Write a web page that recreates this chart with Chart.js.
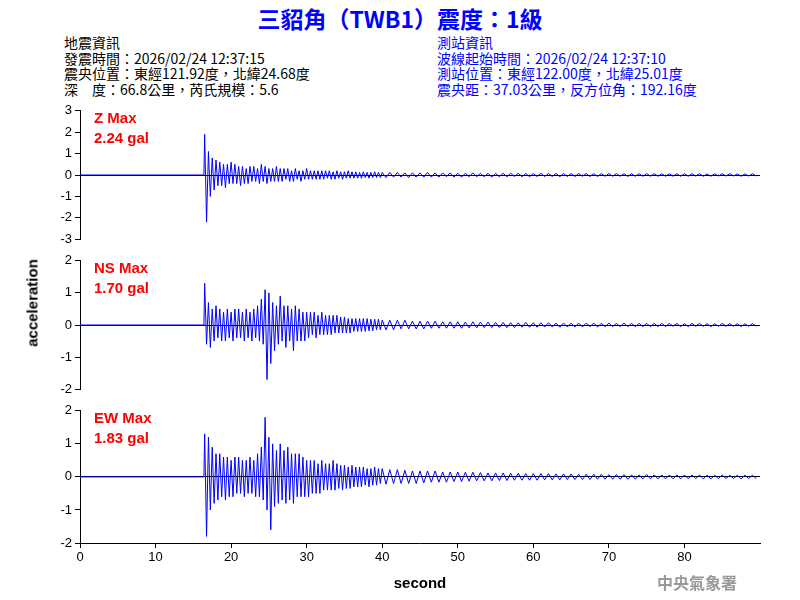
<!DOCTYPE html>
<html><head><meta charset="utf-8">
<script src="https://cdn.jsdelivr.net/npm/chart.js@4"></script>
<style>
body{margin:0;width:800px;height:600px;background:#fff;position:relative;overflow:hidden;font-family:"Liberation Sans",Arial,sans-serif}
.c{position:absolute;left:0;width:800px}
.t{position:absolute;white-space:nowrap}
.hdr{font-family:"Noto Sans CJK TC","Liberation Sans";font-size:14px;line-height:15.7px}
.lab{color:#ff0000;font-weight:bold;font-size:15px;line-height:20px}
</style></head><body>
<div class="t" style="left:0;width:800px;top:1px;text-align:center;color:#0000ff;font-weight:bold;font-size:23px;font-family:'Noto Sans CJK TC','Liberation Sans'">三貂角（TWB1）震度：1級</div>
<div class="t hdr" style="left:64px;top:35px;color:#000">地震資訊<br>發震時間：2026/02/24 12:37:15<br>震央位置：東經121.92度，北緯24.68度<br>深　度：66.8公里，芮氏規模：5.6</div>
<div class="t hdr" style="left:437px;top:35px;color:#0000ff">測站資訊<br>波線起始時間：2026/02/24 12:37:10<br>測站位置：東經122.00度，北緯25.01度<br>震央距：37.03公里，反方位角：192.16度</div>
<div class="c" style="top:100px;height:150px"><canvas id="c1"></canvas></div>
<div class="c" style="top:250px;height:150px"><canvas id="c2"></canvas></div>
<div class="c" style="top:400px;height:200px"><canvas id="c3"></canvas></div>
<div class="t lab" style="left:94px;top:108px">Z Max<br>2.24 gal</div>
<div class="t lab" style="left:94px;top:258px">NS Max<br>1.70 gal</div>
<div class="t lab" style="left:94px;top:408px">EW Max<br>1.83 gal</div>
<div class="t" style="left:32px;top:303px;transform:translate(-50%,-50%) rotate(-90deg);font-size:15px;font-weight:bold">acceleration</div>
<div class="t" style="left:657px;top:570px;color:#999;font-size:16px;font-weight:bold;font-family:'Noto Sans CJK TC'">中央氣象署</div>
<script>
// sample times: 0, 16.4, 16.5..40 step .25, 40.5..89.5 step .5
const times=[0,16.4];
for(let i=0;i<95;i++)times.push(16.5+0.25*i);
for(let i=0;i<99;i++)times.push(40.5+0.5*i);

const zHead=[0,0];
const zVals=[1.9,-2.2,1.1,-1.0,0.8,-0.7,0.7,-0.5, 0.6,-0.5,0.5,-0.6,0.5,-0.4,0.6,-0.4, 0.5,-0.4,0.4,-0.5,0.4,-0.4,0.3,-0.4, 0.4,-0.3,0.4,-0.3,0.3,-0.4,0.5,-0.3, 0.4,-0.4,0.3,-0.3,0.3,-0.3,0.4,-0.3, 0.3,-0.3,0.3,-0.2,0.3,-0.3,0.2,-0.3, 0.3,-0.2,0.2,-0.3,0.2,-0.2,0.3,-0.2, 0.2,-0.2,0.2,-0.2,0.2,-0.2,0.2,-0.2,
0.2,-0.15,0.2,-0.2,0.15,-0.2,0.2,-0.15, 0.15,-0.2,0.15,-0.15,0.2,-0.15,0.15,-0.15, 0.15,-0.15,0.12,-0.15,0.15,-0.12,0.12,-0.15, 0.12,-0.12,0.15,-0.12,0.12,-0.12,0.12,
-0.12,0.12,-0.1,0.12,-0.1,0.1,-0.12,0.1,-0.1,0.1, -0.1,0.12,-0.1,0.1,-0.1,0.1,-0.08,0.1,-0.1,0.08, -0.1,0.08,-0.08,0.1,-0.08,0.08,-0.08,0.08,-0.1,0.08, -0.08,0.08,-0.08,0.08,-0.07,0.08,-0.08,0.07,-0.08,0.07,
-0.07,0.08,-0.07,0.07,-0.07,0.07,-0.08,0.07,-0.07,0.07, -0.07,0.07,-0.06,0.07,-0.07,0.06,-0.07,0.07,-0.06,0.07, -0.06,0.07,-0.06,0.06,-0.07,0.06,-0.06,0.06,-0.06,0.07, -0.06,0.06,-0.06,0.06,-0.06,0.06,-0.06,0.06,-0.06,0.06,
-0.06,0.06,-0.05,0.06,-0.06,0.05,-0.06,0.06,-0.05,0.06, -0.05,0.06,-0.05,0.05,-0.06,0.05,-0.05,0.06,-0.05];

const nsVals=[1.3,-0.6,0.7,-0.7,0.5,-0.5,0.6,-0.4, 0.5,-0.5,0.4,-0.5,0.5,-0.4,0.4,-0.5, 0.5,-0.4,0.5,-0.4,0.4,-0.5,0.5,-0.4, 0.4,-0.5,0.5,-0.4,0.6,-0.5,0.8,-0.6, 1.1,-1.7,1.0,-1.2,0.7,-0.8,0.6,-0.6, 0.9,-0.5,0.6,-0.7,0.6,-0.5,0.5,-0.8, 0.6,-0.5,0.5,-0.5,0.4,-0.5,0.4,-0.4, 0.4,-0.3,0.4,-0.4,0.3,-0.3,0.4,-0.3,
0.3,-0.3,0.3,-0.3,0.3,-0.25,0.3,-0.25, 0.25,-0.25,0.25,-0.25,0.2,-0.25,0.2,-0.2, 0.2,-0.2,0.2,-0.2,0.2,-0.2,0.2,-0.18, 0.18,-0.18,0.18,-0.15,0.18,-0.15,0.15,
-0.15,0.15,-0.15,0.15,-0.12,0.15,-0.12,0.12,-0.12,0.12, -0.12,0.12,-0.1,0.12,-0.1,0.1,-0.1,0.1,-0.1,0.1, -0.1,0.09,-0.09,0.1,-0.09,0.09,-0.08,0.09,-0.08,0.08, -0.08,0.08,-0.08,0.07,-0.08,0.07,-0.07,0.08,-0.07,0.07,
-0.07,0.07,-0.06,0.07,-0.06,0.06,-0.07,0.06,-0.06,0.06, -0.06,0.06,-0.06,0.06,-0.05,0.06,-0.06,0.05,-0.05,0.06, -0.05,0.05,-0.05,0.06,-0.05,0.05,-0.05,0.05,-0.05,0.05, -0.05,0.05,-0.05,0.05,-0.05,0.05,-0.04,0.05,-0.05,0.04,
-0.05,0.05,-0.04,0.05,-0.04,0.04,-0.05,0.04,-0.04,0.05, -0.04,0.04,-0.04,0.04,-0.05,0.04,-0.04,0.04,-0.04];

const ewVals=[1.3,-1.8,1.2,-1.0,0.9,-0.8,0.7,-0.7, 0.7,-0.6,0.6,-0.7,0.6,-0.6,0.5,-0.6, 0.6,-0.5,0.6,-0.5,0.5,-0.6,0.5,-0.5, 0.6,-0.5,0.5,-0.6,0.7,-0.6,0.9,-0.7, 1.8,-1.0,1.2,-1.6,1.0,-0.9,0.8,-0.8, 1.0,-0.7,0.8,-0.8,0.9,-0.7,0.7,-0.8, 0.7,-0.6,0.7,-0.6,0.6,-0.6,0.5,-0.6, 0.5,-0.5,0.5,-0.5,0.4,-0.5,0.5,-0.4,
0.4,-0.4,0.4,-0.4,0.5,-0.4,0.4,-0.35, 0.35,-0.4,0.35,-0.35,0.3,-0.35,0.35,-0.3, 0.3,-0.3,0.3,-0.3,0.3,-0.25,0.25,-0.3, 0.25,-0.25,0.3,-0.25,0.25,-0.2,0.25,
-0.22,0.22,-0.2,0.22,-0.2,0.2,-0.2,0.18,-0.2,0.18, -0.18,0.18,-0.16,0.18,-0.16,0.15,-0.16,0.15,-0.14,0.15, -0.14,0.14,-0.13,0.14,-0.12,0.13,-0.12,0.12,-0.12,0.12, -0.11,0.12,-0.11,0.11,-0.1,0.11,-0.1,0.1,-0.1,0.1,
-0.1,0.1,-0.09,0.1,-0.09,0.09,-0.09,0.09,-0.08,0.09, -0.08,0.08,-0.08,0.08,-0.08,0.08,-0.07,0.08,-0.07,0.07, -0.07,0.07,-0.07,0.07,-0.07,0.06,-0.07,0.06,-0.06,0.07, -0.06,0.06,-0.06,0.06,-0.06,0.06,-0.06,0.06,-0.06,0.06,
-0.06,0.06,-0.05,0.06,-0.06,0.05,-0.06,0.05,-0.05,0.06, -0.05,0.05,-0.05,0.05,-0.06,0.05,-0.05,0.05,-0.05];

const zTicks=[-3,-2,-1,0,1,2,3], hTicks=[-2,-1,0,1,2];
const xTicks=[0,10,20,30,40,50,60,70,80];

function pts(vals){return times.map((t,i)=>({x:t,y:i<2?zHead[i]:vals[i-2]}));}

function make(id,vals,lim,tks,bottom){
  const font={family:"Liberation Sans, Arial",size:13};
  new Chart(document.getElementById(id),{
    type:'line',
    data:{datasets:[{data:pts(vals),borderColor:'#0000ff',borderWidth:1,pointRadius:0,tension:0}]},
    options:{animation:false,responsive:true,maintainAspectRatio:false,
      layout:{padding:{top:8,right:40,bottom:bottom?7:0,left:0}},
      plugins:{legend:{display:false},tooltip:{enabled:false}},
      scales:{
        x:{type:'linear',min:0,max:90,display:bottom,
          afterBuildTicks:s=>{s.ticks=xTicks.map(v=>({value:v}));},
          afterFit:s=>{if(bottom)s.height=50;},
          ticks:{color:'#000',font:font,maxRotation:0,padding:2},
          grid:{drawOnChartArea:false,tickLength:5,tickColor:'#000'},
          border:{color:'#000'},
          title:{display:true,text:'second',color:'#000',font:{family:"Liberation Sans, Arial",size:15,weight:'bold'},padding:{top:4,bottom:0}}},
        y:{min:-lim,max:lim,
          afterBuildTicks:s=>{s.ticks=tks.map(v=>({value:v}));},
          afterFit:s=>{s.width=80;},
          ticks:{color:'#000',font:font,padding:3},
          grid:{color:c=>c.tick&&c.tick.value===0?'#000':'rgba(0,0,0,0)',tickColor:'#000',tickLength:5,lineWidth:1},
          border:{color:'#000'}}
      }}
  });
}
make('c1',zVals,3,zTicks,false);
make('c2',nsVals,2,hTicks,false);
make('c3',ewVals,2,hTicks,true);
</script>
</body></html>
